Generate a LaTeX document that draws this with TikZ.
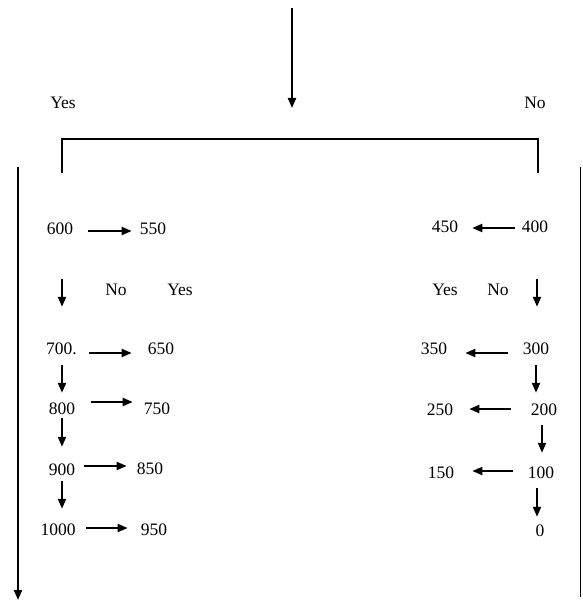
\documentclass[tikz,border=0pt]{standalone}
\usepackage{fontspec}
\setmainfont{Liberation Serif}
\usetikzlibrary{arrows.meta}
\begin{document}
\begin{tikzpicture}[x=1pt,y=-1pt,
  lbl/.style={inner sep=0pt,text height=12pt,text depth=0pt,font=\fontsize{17.5}{20}\selectfont},
  arr/.style={line width=2pt,-{Triangle[length=10pt,width=8pt]}},
  ln/.style={line width=1.7pt}]
\useasboundingbox (0,0) rectangle (582,601);
% top
\coordinate (top) at (292,8);
\coordinate (topend) at (292,108);
\draw[arr] (top) -- (topend);
\node[lbl] (yes0) at (63,103) {Yes};
\node[lbl] (no0) at (535,103) {No};
\coordinate (bl) at (62,173);
\coordinate (blt) at (62,139);
\coordinate (brt) at (538,139);
\coordinate (br) at (538,173);
\draw[ln] (bl) -- (blt) -- (brt) -- (br);
\coordinate (ls) at (18,167);
\coordinate (le) at (18,600);
\draw[arr] (ls) -- (le);
\coordinate (rs) at (580.5,167);
\coordinate (re) at (580.5,597);
\draw[ln] (rs) -- (re);
% left column
\node[lbl] (n600) at (60,228) {600};
\node[lbl] (n550) at (153,228) {550};
\node[lbl] (noL) at (116,289) {No};
\node[lbl] (yesL) at (180,289) {Yes};
\node[lbl,anchor=west] (n700) at (46,348) {700.};
\node[lbl] (n650) at (161,348) {650};
\node[lbl] (n800) at (62,408) {800};
\node[lbl] (n750) at (157,408) {750};
\node[lbl] (n900) at (62,469) {900};
\node[lbl] (n850) at (150,468) {850};
\node[lbl] (n1000) at (58,529) {1000};
\node[lbl] (n950) at (154,529) {950};
% right column
\node[lbl] (n450) at (445,227) {450};
\node[lbl] (n400) at (535,227) {400};
\node[lbl] (yesR) at (445,289) {Yes};
\node[lbl] (noR) at (498,289) {No};
\node[lbl] (n350) at (434,348) {350};
\node[lbl] (n300) at (536,348) {300};
\node[lbl] (n250) at (440,409) {250};
\node[lbl] (n200) at (544,409) {200};
\node[lbl] (n150) at (441,472) {150};
\node[lbl] (n100) at (541,472) {100};
\node[lbl] (n0) at (540,530) {0};
% left horizontal arrows
\draw[arr,shorten <=15pt,shorten >=8pt] ([yshift=-3pt]n600.east) -- ([yshift=-3pt]n550.west);
\draw[arr,shorten <=12pt,shorten >=16pt] ([yshift=-5pt]n700.east) -- ([yshift=-5pt]n650.west);
\draw[arr,shorten <=16pt,shorten >=11pt] ([yshift=6pt]n800.east) -- ([yshift=6pt]n750.west);
\draw[arr,shorten <=9pt,shorten >=10pt] ([yshift=3pt]n900.east) -- ([yshift=2pt]n850.west);
\draw[arr,shorten <=10pt,shorten >=13pt] ([yshift=1pt]n1000.east) -- ([yshift=1pt]n950.west);
% left vertical arrows
\draw[arr,shorten <=45pt,shorten >=35pt] (n600.south -| n800) -- (n800 |- n700.north);
\draw[arr,shorten <=11pt,shorten >=9pt] (n700.south -| n800) -- (n800.north);
\draw[arr,shorten <=4pt,shorten >=16pt] (n800.south) -- (n900.north);
\draw[arr,shorten <=6pt,shorten >=14pt] (n900.south) -- (n1000.north -| n900);
% right horizontal arrows
\draw[arr,shorten <=7pt,shorten >=14pt] ([yshift=-1pt]n400.west) -- ([yshift=-1pt]n450.east);
\draw[arr,shorten <=15pt,shorten >=18pt] ([yshift=-5pt]n300.west) -- ([yshift=-5pt]n350.east);
\draw[arr,shorten <=20pt,shorten >=16pt] (n200.west) -- (n250.east);
\draw[arr,shorten <=15pt,shorten >=18pt] ([yshift=1pt]n100.west) -- ([yshift=1pt]n150.east);
% right vertical arrows
\draw[arr,shorten <=46pt,shorten >=35pt] ([xshift=2pt]n400.south) -- ([xshift=1pt]n300.north);
\draw[arr,shorten <=11pt,shorten >=10pt] (n300.south) -- (n200.north -| n300);
\draw[arr,shorten <=10pt,shorten >=13pt] ([xshift=-2pt]n200.south) -- ([xshift=1pt]n100.north);
\draw[arr,shorten <=10pt,shorten >=7pt] ([xshift=-4pt]n100.south) -- ([xshift=-3pt]n0.north);
\end{tikzpicture}
\end{document}
